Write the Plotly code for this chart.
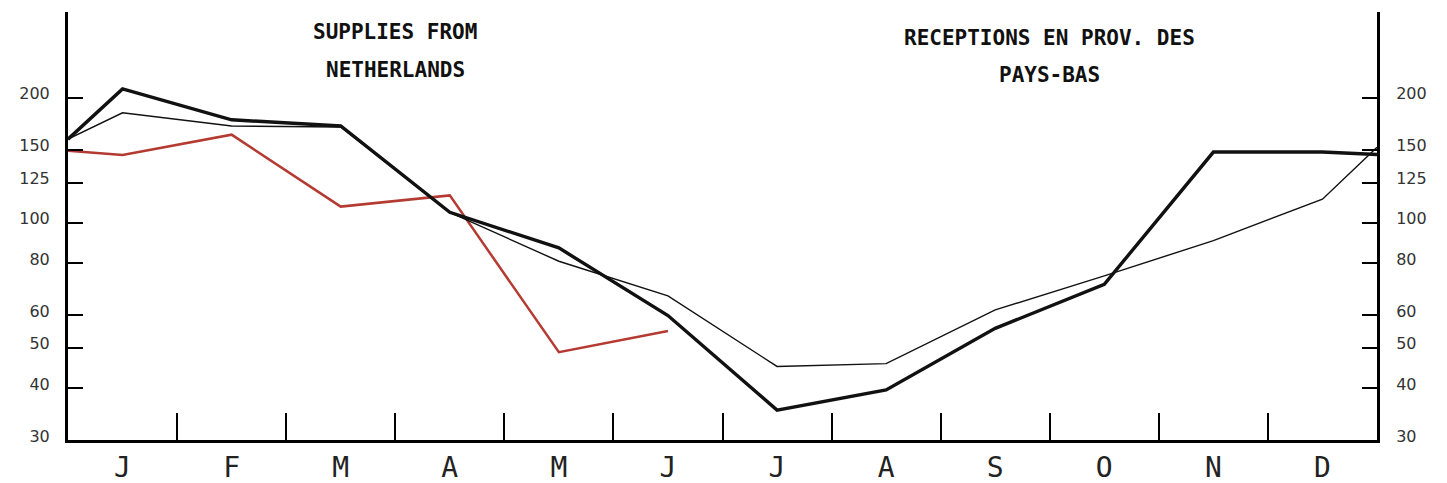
import math
import plotly.graph_objects as go

# ---- data ----
months = ["J", "F", "M", "A", "M", "J", "J", "A", "S", "O", "N", "D"]

# thick black line: value at start of year, monthly values, value at end of year
thick_start = 159
thick_values = [210, 177, 171, 106, 87, 59.8, 35.4, 39.6, 55.7, 71.1, 148, 148]
thick_end = 146

# thin black line
thin_start = 159
thin_values = [184, 171, 170, 106, 80.8, 66.7, 45.1, 45.8, 61.7, 74.5, 90.6, 114]
thin_end = 152

# red line (partial year)
red_start = 149
red_values = [145.6, 163, 109.4, 116.4, 48.8, 54.9]

tick_vals = [30, 40, 50, 60, 80, 100, 125, 150, 200]
tick_text = [str(v) for v in tick_vals]

title_left = ["SUPPLIES FROM", "NETHERLANDS"]
title_right = ["RECEPTIONS EN PROV. DES", "PAYS-BAS"]

# ---- build ----
centers = [i + 0.5 for i in range(len(months))]
boundaries = list(range(1, len(months)))

def series(start, vals, end=None):
    xs = [0] + centers[:len(vals)]
    ys = [start] + list(vals)
    if end is not None:
        xs.append(len(months))
        ys.append(end)
    return xs, ys

fig = go.Figure()
x, y = series(red_start, red_values)
fig.add_trace(go.Scatter(x=x, y=y, mode="lines", line=dict(color="#b43a32", width=2.5)))
x, y = series(thin_start, thin_values, thin_end)
fig.add_trace(go.Scatter(x=x, y=y, mode="lines", line=dict(color="#111111", width=1.4)))
x, y = series(thick_start, thick_values, thick_end)
fig.add_trace(go.Scatter(x=x, y=y, mode="lines", line=dict(color="#111111", width=3.4)))
# invisible trace to activate right axis
fig.add_trace(go.Scatter(x=[0], y=[100], yaxis="y2", mode="lines", line=dict(width=0), hoverinfo="skip"))

PLOT_H = 428
y0 = math.log10(30)
y1 = y0 + PLOT_H / 415.4
tickfont = dict(family="DejaVu Sans", size=16, color="#333333")

# page has an 8px body margin; compensate so the plot area lands at x 68..1377, y 12..440
fig.update_layout(
    width=1439, height=475,
    margin=dict(l=60, r=70, t=4, b=43),
    paper_bgcolor="white", plot_bgcolor="white",
    showlegend=False,
    xaxis=dict(
        range=[0, 12], tickmode="array", tickvals=centers, ticktext=months,
        ticks="", showgrid=False, zeroline=False, automargin=False,
        showline=True, linecolor="black", linewidth=3,
        tickfont=dict(family="DejaVu Sans Mono", size=28, color="#222222"),
        minor=dict(tickmode="array", tickvals=boundaries, ticks="inside", ticklen=27,
                   tickwidth=2, tickcolor="black", showgrid=False),
    ),
    yaxis=dict(
        type="log", range=[y0, y1], tickmode="array", tickvals=tick_vals, ticktext=tick_text,
        ticks="inside", ticklen=15, tickwidth=1.5, tickcolor="black", automargin=False,
        showgrid=False, zeroline=False, showline=True, linecolor="black", linewidth=3,
        tickfont=tickfont, ticklabelstandoff=12, ticklabelshift=-4,
    ),
    yaxis2=dict(
        type="log", range=[y0, y1], overlaying="y", side="right", automargin=False,
        tickmode="array", tickvals=tick_vals, ticktext=tick_text,
        ticks="inside", ticklen=15, tickwidth=1.5, tickcolor="black",
        showgrid=False, zeroline=False, showline=True, linecolor="black", linewidth=3,
        tickfont=tickfont, ticklabelstandoff=13, ticklabelshift=-4,
    ),
)

title_font = dict(family="DejaVu Sans Mono", size=21, color="#111111")
for i, t in enumerate(title_left):
    fig.add_annotation(x=3.0, xref="x", y=1 - (32 + 38 * i - 12) / PLOT_H, yref="paper",
                       text="<b>%s</b>" % t, showarrow=False, font=title_font,
                       xanchor="center", yanchor="middle")
for i, t in enumerate(title_right):
    fig.add_annotation(x=9.0, xref="x", y=1 - (38 + 37 * i - 12) / PLOT_H, yref="paper",
                       text="<b>%s</b>" % t, showarrow=False, font=title_font,
                       xanchor="center", yanchor="middle")

fig.write_html("out.html")
